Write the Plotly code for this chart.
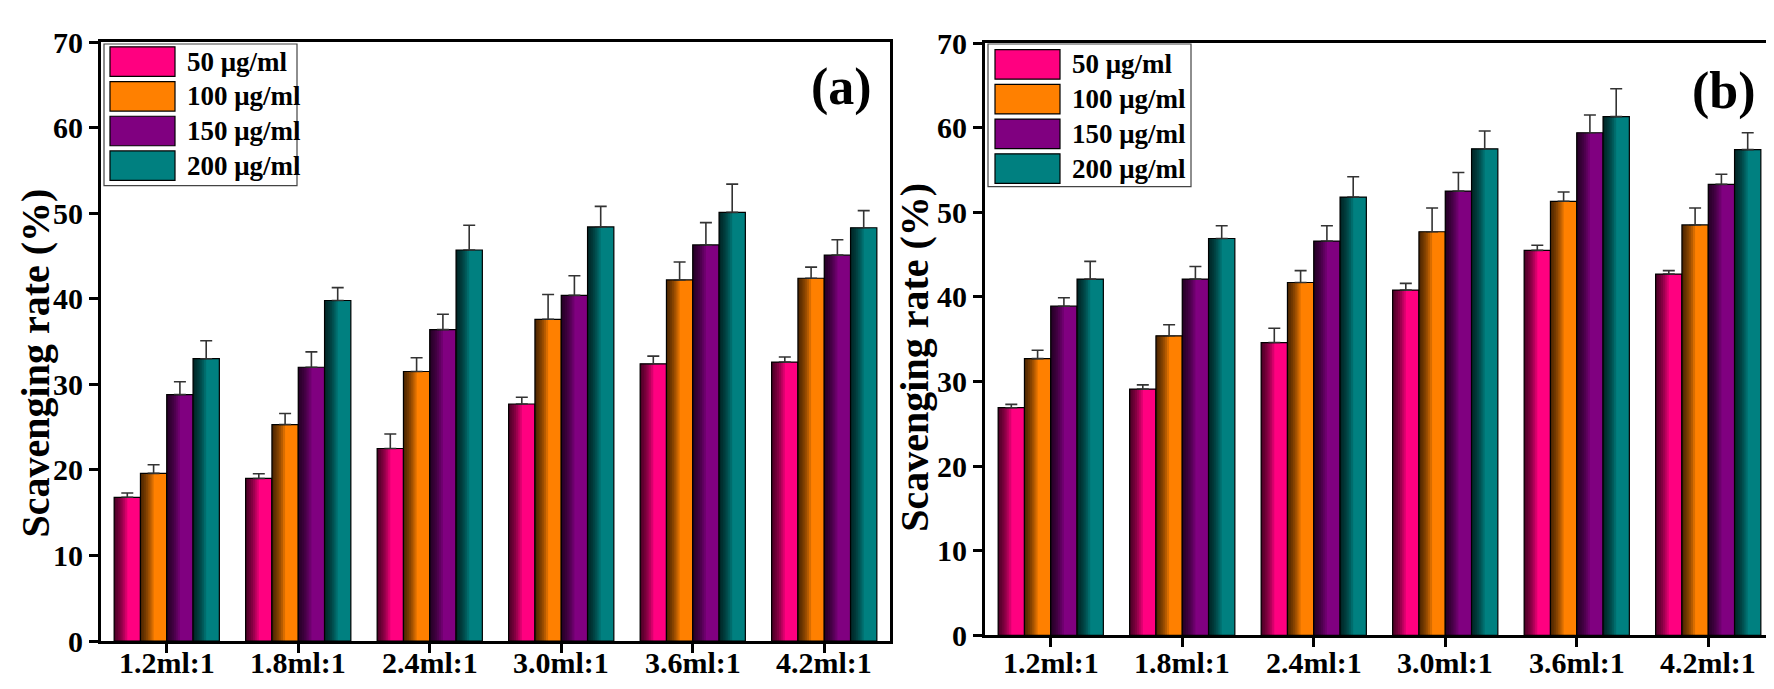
import plotly.graph_objects as go

# ---------------- data ----------------
categories = ["1.2ml:1", "1.8ml:1", "2.4ml:1", "3.0ml:1", "3.6ml:1", "4.2ml:1"]
series_names = ["50 μg/ml", "100 μg/ml", "150 μg/ml", "200 μg/ml"]

# panel (a)
a_50 = [16.8, 19.0, 22.5, 27.7, 32.4, 32.6]
a_100 = [19.6, 25.3, 31.5, 37.6, 42.2, 42.4]
a_150 = [28.8, 32.0, 36.4, 40.4, 46.3, 45.1]
a_200 = [33.0, 39.8, 45.7, 48.4, 50.1, 48.3]
a_50_err = [0.5, 0.55, 1.7, 0.8, 0.9, 0.6]
a_100_err = [1.0, 1.3, 1.6, 2.9, 2.1, 1.3]
a_150_err = [1.5, 1.8, 1.8, 2.3, 2.6, 1.8]
a_200_err = [2.1, 1.5, 2.9, 2.4, 3.3, 2.0]

# panel (b)
b_50 = [26.9, 29.1, 34.6, 40.8, 45.5, 42.7]
b_100 = [32.7, 35.4, 41.7, 47.7, 51.3, 48.5]
b_150 = [38.9, 42.1, 46.6, 52.5, 59.4, 53.3]
b_200 = [42.1, 46.9, 51.8, 57.5, 61.3, 57.4]
b_50_err = [0.4, 0.5, 1.7, 0.8, 0.6, 0.4]
b_100_err = [1.0, 1.3, 1.4, 2.8, 1.1, 2.0]
b_150_err = [1.0, 1.5, 1.8, 2.2, 2.1, 1.2]
b_200_err = [2.1, 1.5, 2.4, 2.1, 3.3, 2.0]

y_ticks = [0, 10, 20, 30, 40, 50, 60, 70]

# ---------------- styling ----------------
colors = ["#FF0080", "#FF8000", "#800080", "#008080"]
FONT = "Liberation Serif"
W, H = 1774, 689
BAR_W = 0.2
SHADE_FRACS = [0.07, 0.14, 0.21, 0.28, 0.35, 0.42, 0.50]
SHADE_ALPHA = 0.15


def px(x):
    return x / W


def py(y):
    return 1 - y / H


fig = go.Figure()

panels = [
    dict(vals=[a_50, a_100, a_150, a_200], errs=[a_50_err, a_100_err, a_150_err, a_200_err],
         xa="x", ya="y", label_y=652),
    dict(vals=[b_50, b_100, b_150, b_200], errs=[b_50_err, b_100_err, b_150_err, b_200_err],
         xa="x2", ya="y2", label_y=652),
]

for p in panels:
    for i, name in enumerate(series_names):
        left = -2 * BAR_W + i * BAR_W
        fig.add_trace(go.Bar(
            x=categories, y=p["vals"][i], name=name, showlegend=False,
            xaxis=p["xa"], yaxis=p["ya"],
            offset=left, width=BAR_W,
            marker=dict(color=colors[i], line=dict(color="black", width=1.2)),
            error_y=dict(type="data", symmetric=False, array=p["errs"][i],
                         arrayminus=[0] * len(categories),
                         color="#333333", thickness=1.6, width=6),
        ))
        # shading layers to mimic the dark-left gradient of the original bars
        for f in SHADE_FRACS:
            fig.add_trace(go.Bar(
                x=categories, y=p["vals"][i], showlegend=False, hoverinfo="skip",
                xaxis=p["xa"], yaxis=p["ya"],
                offset=left, width=BAR_W * f,
                marker=dict(color=f"rgba(0,0,0,{SHADE_ALPHA})", line=dict(width=0)),
            ))

axis_common = dict(
    showline=True, linecolor="black", linewidth=3, mirror=True,
    ticks="outside", tickwidth=3, ticklen=9, tickcolor="black",
    showgrid=False, zeroline=False,
)
xfont = dict(family=FONT, size=30, color="black", weight="bold")
yfont = dict(family=FONT, size=30, color="black", weight="bold")

fig.update_layout(
    width=W, height=H,
    margin=dict(l=0, r=0, t=0, b=0),
    paper_bgcolor="white", plot_bgcolor="white",
    barmode="overlay",
    showlegend=False,
    xaxis=dict(domain=[px(93), px(882)], anchor="y", range=[-0.5, 5.5],
               showticklabels=False, **axis_common),
    yaxis=dict(domain=[py(648), py(18)], anchor="x", range=[0, 70], tickvals=y_ticks,
               tickfont=yfont, **axis_common),
    xaxis2=dict(domain=[px(977), px(1766)], anchor="y2", range=[-0.5, 5.5],
                showticklabels=False, **axis_common),
    yaxis2=dict(domain=[py(642), py(19)], anchor="x2", range=[0, 70], tickvals=y_ticks,
                tickfont=yfont, **axis_common),
)

shapes = []
annotations = []

# category labels under each x axis (placed tight to the axis like the original)
for p in panels:
    for c in categories:
        annotations.append(dict(
            x=c, y=py(p["label_y"]), xref=p["xa"], yref="paper", text=c,
            showarrow=False, xanchor="center", yanchor="top", borderpad=0,
            font=xfont,
        ))

# y-axis titles
for (cx, cy) in [(27, 356), (907, 350)]:
    annotations.append(dict(
        x=px(cx), y=py(cy), xref="paper", yref="paper", text="Scavenging rate (%)",
        textangle=-90, showarrow=False, xanchor="center", yanchor="middle", borderpad=0,
        font=dict(family=FONT, size=40, color="black", weight="bold"),
    ))

# panel labels
for (cx, cy, lab) in [(833, 65, "(a)"), (1716, 69, "(b)")]:
    annotations.append(dict(
        x=px(cx), y=py(cy), xref="paper", yref="paper", text=lab, showarrow=False,
        xanchor="center", yanchor="middle",
        font=dict(family=FONT, size=52, color="black", weight="bold"),
    ))

# custom legends (large swatches like the original)
legend_boxes = [
    dict(box=(96, 20, 289, 169), sw_x=(102, 167), row_top=23, text_x=177),
    dict(box=(980, 20, 1183, 170), sw_x=(987, 1052), row_top=26, text_x=1062),
]
ROW_H = 36.5
SW_H = 31
for lb in legend_boxes:
    x0, y0, x1, y1 = lb["box"]
    shapes.append(dict(type="rect", xref="paper", yref="paper",
                       x0=px(x0), x1=px(x1), y0=py(y1), y1=py(y0),
                       line=dict(color="#444444", width=1.2), fillcolor="white", layer="above"))
    for i, name in enumerate(series_names):
        t = lb["row_top"] + i * ROW_H
        shapes.append(dict(type="rect", xref="paper", yref="paper",
                           x0=px(lb["sw_x"][0]), x1=px(lb["sw_x"][1]),
                           y0=py(t + SW_H), y1=py(t),
                           line=dict(color="black", width=1.2), fillcolor=colors[i],
                           layer="above"))
        annotations.append(dict(
            x=px(lb["text_x"]), y=py(t + SW_H / 2), xref="paper", yref="paper",
            text=name, showarrow=False, xanchor="left", yanchor="middle",
            font=dict(family=FONT, size=27, color="black", weight="bold"),
        ))

fig.update_layout(shapes=shapes, annotations=annotations)

fig.write_html("out.html")
